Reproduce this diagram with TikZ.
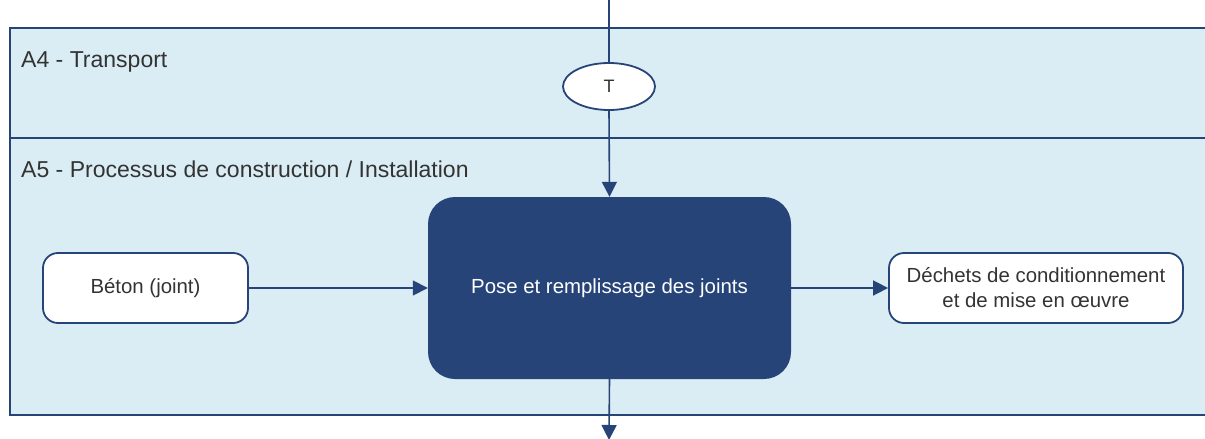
\documentclass[tikz,border=0pt]{standalone}
\usepackage{fontspec}
\setmainfont{Liberation Sans}
\usetikzlibrary{arrows.meta,shapes.geometric}
\definecolor{dkblue}{HTML}{264478}
\definecolor{lanefill}{HTML}{DAEDF4}
\definecolor{txt}{HTML}{333333}
\tikzset{
  lane/.style={fill=lanefill,draw=dkblue,line width=2pt},
  lanelabel/.style={anchor=base west,inner sep=0pt,text=txt,font=\fontsize{23}{27}\selectfont},
  whitebox/.style={draw=dkblue,fill=white,line width=1.8pt,rounded corners=15pt,align=center,text=txt,
    font=\fontsize{20.4}{25}\selectfont,inner sep=0pt},
  mainbox/.style={fill=dkblue,draw=none,rounded corners=27pt,align=center,text=white,
    font=\fontsize{20.4}{25}\selectfont,inner sep=0pt},
  oval/.style={ellipse,draw=dkblue,fill=white,line width=1.8pt,inner sep=0pt,text=txt,font=\fontsize{18}{20}\selectfont},
  conn/.style={draw=dkblue,line width=1.6pt},
  arr/.style={conn,-{Triangle[length=15pt,width=15pt]}}
}
\begin{document}
\begin{tikzpicture}[x=1pt,y=-1pt]
\useasboundingbox (0,0) rectangle (1205,439);
% lanes
\path[lane] (1215,28) -- (9.5,28) -- (9.5,138) -- (1215,138);
\path[lane] (1215,138) -- (9.5,138) -- (9.5,415) -- (1215,415);
\node[lanelabel] (la4) at (21,67) {A4 - Transport};
\node[lanelabel] (la5) at (21,177) {A5 - Processus de construction / Installation};
% nodes
\node[oval,minimum width=92pt,minimum height=47pt] (t) at (609,86.5) {T};
\node[mainbox,minimum width=363pt,minimum height=182pt] (main) at (609.5,288) {Pose et remplissage des joints};
\node[whitebox,minimum width=205pt,minimum height=70pt] (beton) at (145.5,288) {Béton (joint)};
\node[whitebox,minimum width=294pt,minimum height=70pt] (dechets) at (1036,288) {Déchets de conditionnement\\et de mise en œuvre};
\coordinate (top) at (609,0);
\coordinate (bot) at (609,440);
% connectors
\draw[conn] (top) -- (t.north);
\draw[arr] (t.south) -- (main.north);
\draw[arr] (beton.east) -- (main.west);
\draw[arr] (main.east) -- (dechets.west);
\draw[arr] (main.south) -- (bot);
\end{tikzpicture}
\end{document}
